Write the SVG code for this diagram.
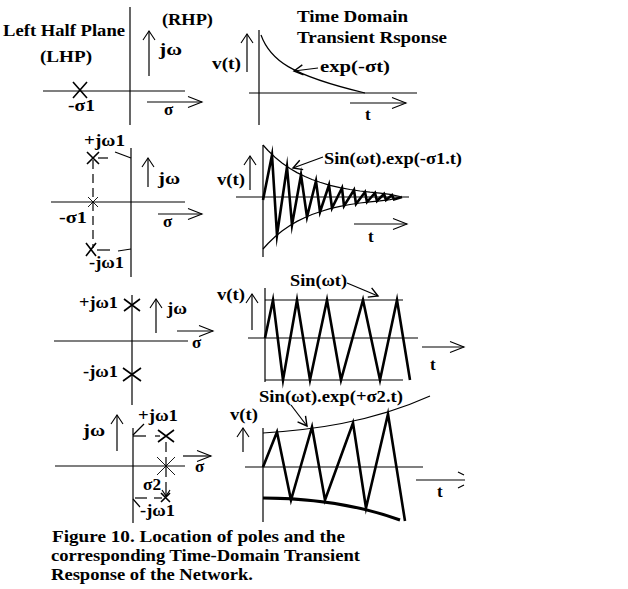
<svg xmlns="http://www.w3.org/2000/svg" width="628" height="589" viewBox="0 0 628 589">
<style>
.ln{stroke:#000;stroke-width:1.2;fill:none}
.th{stroke:#000;stroke-width:2.6;fill:none;stroke-linejoin:miter;stroke-miterlimit:10}
.x{stroke:#000;stroke-width:1.6;fill:none}
.xt{stroke:#000;stroke-width:0.9;fill:none}
.da{stroke-dasharray:9 5}
.tx{font-family:"Liberation Serif","Times New Roman",serif;font-weight:bold;font-size:17px;fill:#000}
.cap{font-family:"Liberation Serif","Times New Roman",serif;font-weight:bold;font-size:17px;fill:#000}
</style>
<defs>
<marker id="ah" markerUnits="userSpaceOnUse" markerWidth="16" markerHeight="14" refX="14" refY="6" orient="auto" overflow="visible"><path d="M0,0.5 L14,6 L0,11.5" fill="none" stroke="#000" stroke-width="1.1"/></marker>
<marker id="av" markerUnits="userSpaceOnUse" markerWidth="12" markerHeight="14" refX="9" refY="6" orient="auto" overflow="visible"><path d="M0,0 L9,6 L0,12" fill="none" stroke="#000" stroke-width="1.1"/></marker>
<marker id="ap" markerUnits="userSpaceOnUse" markerWidth="12" markerHeight="12" refX="0" refY="5" orient="auto" overflow="visible"><path d="M9,0 L0,5 L9,10" fill="none" stroke="#000" stroke-width="1.4"/></marker>
</defs>
<rect width="628" height="589" fill="#fff"/>

<g id="row1-splane">
<line class="ln" x1="130" y1="7" x2="130" y2="125"/>
<line class="ln" x1="43" y1="91" x2="185" y2="91"/>
<path class="x" d="M73,82 L87,98 M87,82 L73,98"/>
<line class="ln" x1="149" y1="76" x2="149" y2="31" marker-end="url(#av)"/>
<line class="ln" x1="147" y1="102" x2="202" y2="102" marker-end="url(#ah)"/>
<text class="tx" x="3" y="36" textLength="122" lengthAdjust="spacingAndGlyphs">Left Half Plane</text>
<text class="tx" x="40" y="62" textLength="52" lengthAdjust="spacingAndGlyphs">(LHP)</text>
<text class="tx" x="162" y="25" textLength="51" lengthAdjust="spacingAndGlyphs">(RHP)</text>
<text class="tx" x="159" y="55" textLength="23" lengthAdjust="spacingAndGlyphs">jω</text>
<text class="tx" x="68" y="111" textLength="27" lengthAdjust="spacingAndGlyphs">-σ1</text>
<text class="tx" x="164" y="115">σ</text>
</g>

<g id="row1-response">
<line class="ln" x1="259" y1="30" x2="259" y2="125"/>
<line class="ln" x1="249" y1="93" x2="417" y2="93"/>
<line class="ln" x1="247" y1="72" x2="247" y2="34" marker-end="url(#av)"/>
<line class="ln" x1="350" y1="103" x2="406" y2="103" marker-end="url(#ah)"/>
<path class="ln" d="M261,35 C270,60 290,75 365,93"/>
<text class="tx" x="297" y="22" textLength="111" lengthAdjust="spacingAndGlyphs">Time Domain</text>
<text class="tx" x="297" y="43" textLength="150" lengthAdjust="spacingAndGlyphs">Transient Rsponse</text>
<text class="tx" x="212" y="69" textLength="29" lengthAdjust="spacingAndGlyphs">v(t)</text>
<text class="tx" x="320" y="72" textLength="70" lengthAdjust="spacingAndGlyphs">exp(-σt)</text>
<text class="tx" x="365" y="120">t</text>
</g>

<g id="row2-splane">
<line class="ln" x1="131" y1="148" x2="131" y2="277"/>
<line class="ln" x1="51" y1="202" x2="185" y2="202"/>
<path class="x" d="M87,152 L99,164 M99,152 L87,164"/>
<path class="xt" d="M88,197 L98,207 M98,197 L88,207"/>
<path class="x" d="M86,243 L96,256 M96,243 L86,256"/>
<line class="ln da" x1="93" y1="160" x2="93" y2="248"/>
<line class="ln" x1="98" y1="158" x2="108" y2="158"/>
<line class="ln" x1="115" y1="152" x2="131" y2="158"/>
<line class="ln" x1="97" y1="250" x2="110" y2="250"/>
<line class="ln" x1="118" y1="251" x2="131" y2="249"/>
<line class="ln" x1="148" y1="187" x2="148" y2="158" marker-end="url(#av)"/>
<line class="ln" x1="158" y1="214" x2="202" y2="214" marker-end="url(#ah)"/>
<text class="tx" x="84" y="146" textLength="41" lengthAdjust="spacingAndGlyphs">+jω1</text>
<text class="tx" x="158" y="184" textLength="22" lengthAdjust="spacingAndGlyphs">jω</text>
<text class="tx" x="59" y="223" textLength="28" lengthAdjust="spacingAndGlyphs">-σ1</text>
<text class="tx" x="163" y="227">σ</text>
<text class="tx" x="89" y="268" textLength="35" lengthAdjust="spacingAndGlyphs">-jω1</text>
</g>

<g id="row2-response">
<line class="ln" x1="263" y1="145" x2="263" y2="257"/>
<line class="ln" x1="236" y1="197" x2="409" y2="197"/>
<line class="ln" x1="250" y1="190" x2="250" y2="156" marker-end="url(#av)"/>
<line class="ln" x1="354" y1="224" x2="407" y2="224" marker-end="url(#ah)"/>
<polyline class="ln" points="263,145 268,150.5 275,157.2 282,162.9 290,168.5 297,172.6 305,176.5 312,179.5 320,182.3 330,185.3 340,187.6 350,189.5 360,191 370,192.2 380,193.1 390,194.3 400,196.5"/>
<polyline class="ln" points="263,249 268,243.5 275,236.8 282,231.1 290,225.5 297,221.4 305,217.5 312,214.5 320,211.7 330,208.7 340,206.4 350,204.5 360,203 370,201.8 380,200.9 390,199.7 400,197.5"/>
<polyline class="th" points="263,200 272,155 277,235 287,167 292,225 301,175 307,217 316,181 320,212 329,185 332,208 342,188 344,206 354,190 356,204 365,192 367,202 375,193 377,201 384,194 386,200 392,195 394,199.5 402,197"/>
<text class="tx" x="217" y="185" textLength="28" lengthAdjust="spacingAndGlyphs">v(t)</text>
<text class="tx" x="324" y="164" textLength="138" lengthAdjust="spacingAndGlyphs">Sin(ωt).exp(-σ1.t)</text>
<text class="tx" x="368" y="242">t</text>
</g>

<g id="row3-splane">
<line class="ln" x1="132" y1="295" x2="132" y2="405"/>
<line class="ln" x1="54" y1="341" x2="188" y2="341"/>
<path class="x" d="M124,299 L140,311 M140,299 L124,311"/>
<path class="x" d="M123,368 L141,381 M141,368 L123,381"/>
<line class="ln" x1="156" y1="333" x2="156" y2="299" marker-end="url(#av)"/>
<line class="ln" x1="177" y1="331" x2="213" y2="331" marker-end="url(#ah)"/>
<text class="tx" x="79" y="308" textLength="39" lengthAdjust="spacingAndGlyphs">+jω1</text>
<text class="tx" x="167" y="314" textLength="20" lengthAdjust="spacingAndGlyphs">jω</text>
<text class="tx" x="192" y="348">σ</text>
<text class="tx" x="83" y="377" textLength="35" lengthAdjust="spacingAndGlyphs">-jω1</text>
</g>

<g id="row3-response">
<line class="ln" x1="265" y1="288" x2="265" y2="382"/>
<line class="ln" x1="265" y1="300" x2="403" y2="300"/>
<line class="ln" x1="248" y1="338" x2="418" y2="338"/>
<line class="ln" x1="265" y1="380" x2="403" y2="380"/>
<line class="ln" x1="252" y1="330" x2="252" y2="294" marker-end="url(#av)"/>
<line class="ln" x1="422" y1="347" x2="464" y2="347" marker-end="url(#ah)"/>
<polyline class="th" points="265,338 273,300 283,380 297,300 310,380 327,300 341,380 363,300 380,380 397,300 410,380"/>
<text class="tx" x="217" y="300" textLength="28" lengthAdjust="spacingAndGlyphs">v(t)</text>
<text class="tx" x="290" y="286" textLength="57" lengthAdjust="spacingAndGlyphs">Sin(ωt)</text>
<text class="tx" x="430" y="370">t</text>
</g>

<g id="row4-splane">
<line class="ln" x1="133" y1="428" x2="133" y2="523"/>
<line class="ln" x1="55" y1="466" x2="185" y2="466"/>
<path class="x" d="M158,430 L174,442 M174,430 L158,442"/>
<path class="xt" d="M157,457 L175,475 M175,457 L157,475"/>
<path class="x" d="M161,493 L170,502 M170,493 L161,502"/>
<line class="ln" x1="166" y1="442" x2="166" y2="452"/>
<line class="ln" x1="166" y1="457" x2="166" y2="477"/>
<line class="ln" x1="166" y1="482" x2="166" y2="496"/>
<path class="ln" d="M162,490 L166,496 L170,490"/>
<line class="ln" x1="133" y1="436" x2="146" y2="436"/>
<line class="ln" x1="155" y1="436" x2="160" y2="436"/>
<line class="ln" x1="133" y1="435" x2="144" y2="424"/>
<line class="ln" x1="135" y1="498" x2="147" y2="498"/>
<line class="ln" x1="154" y1="498" x2="162" y2="498"/>
<line class="ln" x1="133" y1="499" x2="140" y2="507"/>
<line class="ln" x1="117" y1="451" x2="117" y2="415" marker-end="url(#av)"/>
<line class="ln" x1="183" y1="456" x2="211" y2="456" marker-end="url(#ah)"/>
<text class="tx" x="83" y="436" textLength="22" lengthAdjust="spacingAndGlyphs">jω</text>
<text class="tx" x="138" y="421" textLength="40" lengthAdjust="spacingAndGlyphs">+jω1</text>
<text class="tx" x="195" y="472">σ</text>
<text class="tx" x="143" y="490" textLength="18" lengthAdjust="spacingAndGlyphs">σ2</text>
<text class="tx" x="140" y="516" textLength="35" lengthAdjust="spacingAndGlyphs">-jω1</text>
</g>

<g id="row4-response">
<line class="ln" x1="263" y1="428" x2="263" y2="522"/>
<line class="ln" x1="245" y1="467" x2="423" y2="467"/>
<line class="ln" x1="243" y1="452" x2="243" y2="428" marker-end="url(#av)"/>
<line class="ln" x1="416" y1="480" x2="465" y2="480"/>
<path class="ln" d="M458,472 L464,475 M458,488 L464,485"/>
<path class="ln" d="M263,433 C310,430 370,423 430,396"/>
<path class="th" style="stroke-width:3" d="M263,498 C300,498 350,502 400,520"/>
<polyline class="th" points="263,467 277,432 291,500 312,427 325,500 353,423 366,508 388,414 405,521"/>
<text class="tx" x="230" y="420" textLength="28" lengthAdjust="spacingAndGlyphs">v(t)</text>
<text class="tx" x="259" y="402" textLength="144" lengthAdjust="spacingAndGlyphs">Sin(ωt).exp(+σ2.t)</text>
<text class="tx" x="437" y="497">t</text>
</g>

<g id="connectors">
<line class="ln" x1="294" y1="71" x2="318" y2="68" marker-start="url(#ap)"/>
<line class="ln" x1="293" y1="168" x2="323" y2="157" marker-start="url(#ap)"/>
<line class="ln" x1="378" y1="296" x2="347" y2="283" marker-start="url(#ap)"/>
<line class="ln" x1="307" y1="426" x2="291" y2="405" marker-start="url(#ap)"/>
</g>

<g id="caption">
<text class="cap" x="52" y="542" textLength="293" lengthAdjust="spacingAndGlyphs">Figure 10. Location of poles and the</text>
<text class="cap" x="51" y="561" textLength="309" lengthAdjust="spacingAndGlyphs">corresponding Time-Domain Transient</text>
<text class="cap" x="51" y="580" textLength="202" lengthAdjust="spacingAndGlyphs">Response of the Network.</text>
</g>
</svg>
